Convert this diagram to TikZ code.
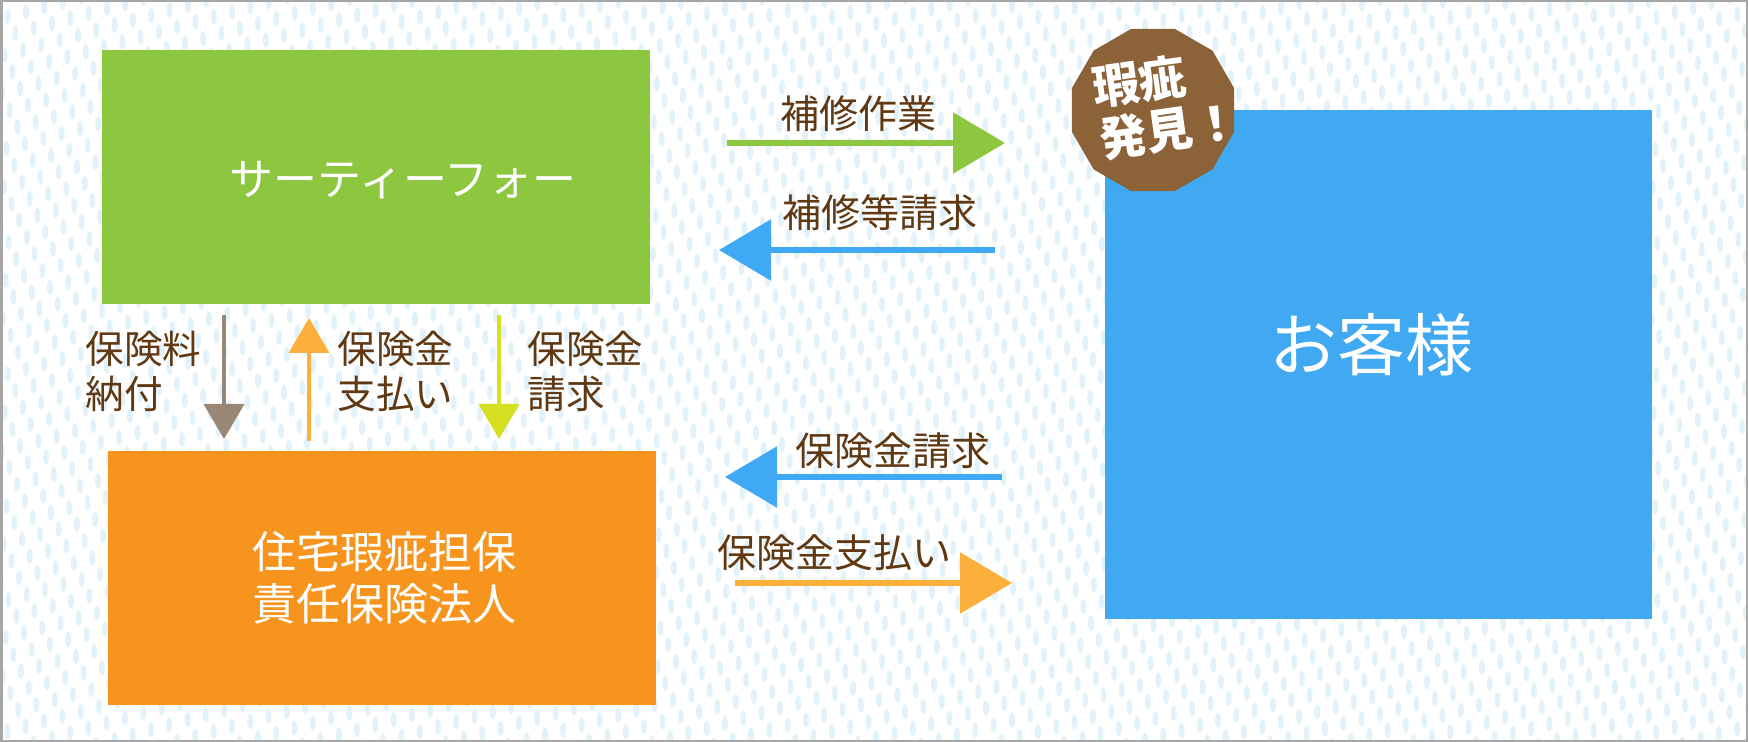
\documentclass[tikz,border=0pt]{standalone}
\usepackage{fontspec}
\setmainfont{Noto Sans CJK JP}
\usetikzlibrary{arrows.meta,shapes.geometric}
\definecolor{dotblue}{HTML}{E2F2FA}
\definecolor{labelbrown}{HTML}{603913}
\definecolor{boxgreen}{HTML}{8DC63F}
\definecolor{boxorange}{HTML}{F7941D}
\definecolor{boxblue}{HTML}{40A9F2}
\definecolor{badgebrown}{HTML}{8C6239}
\definecolor{arrowgreen}{HTML}{8DC63F}
\definecolor{arrowblue}{HTML}{3FA9F5}
\definecolor{arroworange}{HTML}{FBB03B}
\definecolor{arrowtaupe}{HTML}{998675}
\definecolor{arrowlime}{HTML}{D7DF23}

\begin{document}
\begin{tikzpicture}[x=0.5pt, y=-0.5pt,
  dot/.style={fill=dotblue},
  box/.style={fill=#1, minimum width=274pt, minimum height=127pt, inner sep=0pt},
  boxlabel/.style={text=white, font=\fontsize{22}{26}\selectfont, align=left, inner sep=0pt},
  flowlabel/.style={text=labelbrown, font=\fontsize{19.5}{23}\selectfont, inner sep=0pt},
  sidelabel/.style={text=labelbrown, font=\fontsize{19.3}{22.5}\selectfont, align=left, anchor=west, inner sep=0pt},
  bigarrow/.style={draw=#1, line width=3pt, -{Triangle[width=30pt,length=26pt]}},
  smallarrow/.style={draw=#1, line width=2pt, -{Triangle[width=20pt,length=17.5pt]}},
  badge/.style={regular polygon, regular polygon sides=12, minimum size=84pt, fill=badgebrown, inner sep=0pt},
  badgetext/.style={text=white, font=\fontsize{23.5}{26}\selectfont\bfseries, align=left, inner sep=0pt},
]
\useasboundingbox (0,0) rectangle (1748,742);
% Background
\fill[white] (0,0) rectangle (1748,742);
\begin{scope}
\clip (0,0) rectangle (1748,742);
\foreach \i in {-17,...,86} {
  \pgfmathtruncatemacro\jlo{floor((5*\i-15)/16.7)}
  \pgfmathtruncatemacro\jhi{\jlo+47}
  \foreach \j in {\jlo,...,\jhi}
    \fill[dot] (18.3*\i+7.7*\j, 16.7*\j-5*\i) ellipse [x radius=1.5pt, y radius=3.75pt];
}
\end{scope}
\draw[gray!70, line width=1.5pt] (1,1) rectangle (1747,741);

% Boxes
\node[box=boxgreen] (company) at (375.5,177) {};
\node[boxlabel] (companytext) at (403,180) {サーティーフォー};
\node[box=boxorange] (insurer) at (381.5,578) {};
\node[boxlabel] (insurertext) at (384,578) {住宅瑕疵担保\\責任保険法人};
\node[box=boxblue, minimum width=273.5pt, minimum height=254.5pt] (client) at (1378.5,364.5) {};
\node[text=white, font=\fontsize{34}{40}\selectfont, inner sep=0pt] (clienttext) at (1371,345) {お客様};

% Badge
\node[badge] (flaw) at (1153,110) {};
\node[badgetext, rotate=8] (flawtext) at (1166,104) {瑕疵\\発見！};

% Horizontal flows
\coordinate (repairA) at (727,143);   \coordinate (repairB) at (1005,143);
\coordinate (claimA) at (995,250);    \coordinate (claimB) at (719,250);
\coordinate (insclaimA) at (1002,477); \coordinate (insclaimB) at (725,477);
\coordinate (payA) at (735,583);      \coordinate (payB) at (1012,583);
\draw[bigarrow=arrowgreen] (repairA) -- (repairB);
\draw[bigarrow=arrowblue] (claimA) -- (claimB);
\draw[bigarrow=arrowblue] (insclaimA) -- (insclaimB);
\draw[bigarrow=arroworange] (payA) -- (payB);
\node[flowlabel] (repair) at (858,114) {補修作業};
\node[flowlabel] (claim) at (880,213) {補修等請求};
\node[flowlabel] (insclaim) at (893,451) {保険金請求};
\node[flowlabel] (pay) at (834,553) {保険金支払い};

% Vertical flows
\coordinate (premA) at (224,315);  \coordinate (premB) at (224,439);
\coordinate (benA) at (309,441);   \coordinate (benB) at (309,318);
\coordinate (reqA) at (499,315);   \coordinate (reqB) at (499,439);
\draw[smallarrow=arrowtaupe] (premA) -- (premB);
\draw[smallarrow=arroworange] (benA) -- (benB);
\draw[smallarrow=arrowlime] (reqA) -- (reqB);
\node[sidelabel] (prem) at (85,371) {保険料\\納付};
\node[sidelabel] (ben) at (337,371) {保険金\\支払い};
\node[sidelabel] (req) at (527,371) {保険金\\請求};
\end{tikzpicture}
\end{document}
